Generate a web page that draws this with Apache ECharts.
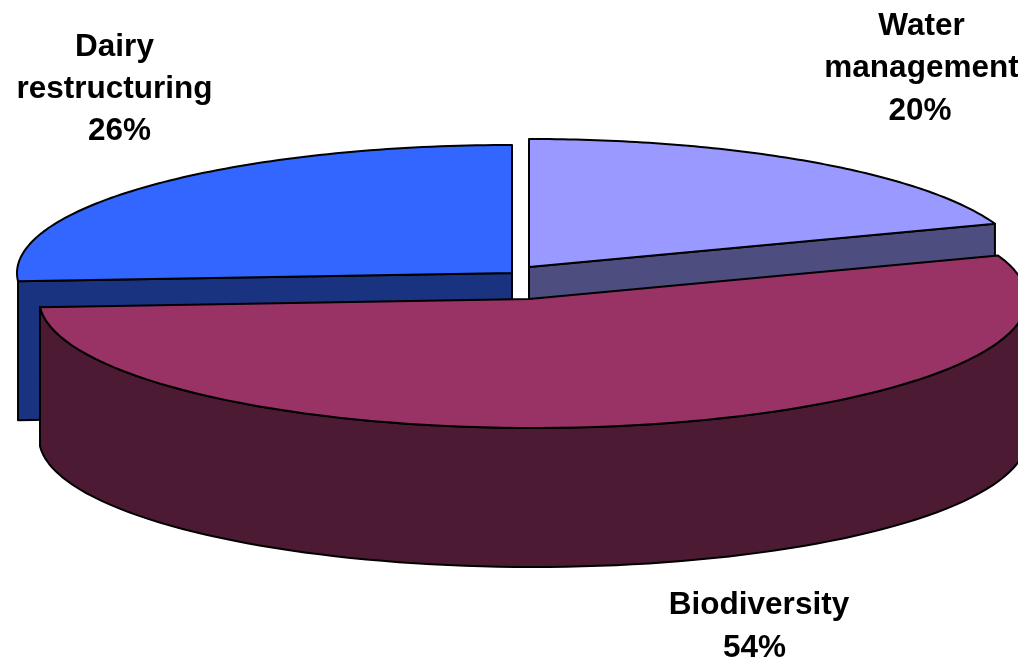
<!DOCTYPE html>
<html>
<head>
<meta charset="utf-8">
<style>
  html, body { margin: 0; padding: 0; background: #fff; }
  #chart { width: 1018px; height: 657px; }
</style>
</head>
<body>
<div id="chart"></div>
<script src="https://cdn.jsdelivr.net/npm/echarts@6/dist/echarts.min.js"></script>
<script>
  // values: printed labels, and slice sizes estimated from the rim
  const categories = ['Dairy\nrestructuring', 'Water\nmanagement', 'Biodiversity'];
  const percentLabels = ['26%', '20%', '54%'];
  const shares = [26, 19.5, 54.4];

  // one colour pair per slice, drawn back to front
  const topColors = ['#3366FF', '#9999FF', '#993366'];
  const wallColors = ['#1A3380', '#4D4D80', '#4D1A33'];

  const depth = 139;
  const apexes = [[512, 273], [529, 267], [529, 299]];    // exploded slice tips
  const centers = [[512, 273], [529, 267], [533, 299]];   // centre of each rim ellipse
  const radiiX = [495, 495, 494];
  const radiiY = [128, 128, 129];
  const namePos = [[114.5, 68.25], [921.5, 47.25], [759, 605.75]];
  const percentPos = [[119.5, 131.5], [920, 111], [754.5, 648.25]];

  const total = shares.reduce((a, b) => a + b, 0);
  // slices run clockwise from 12 o'clock: water, biodiversity, dairy
  const sweepOrder = [1, 2, 0];
  const angles = {};
  let running = 0;
  sweepOrder.forEach(i => {
    angles[i] = [running / total * Math.PI * 2, (running + shares[i]) / total * Math.PI * 2];
    running += shares[i];
  });

  function arc(i, from, to) {
    const pts = [];
    const n = 90;
    for (let k = 0; k <= n; k++) {
      const t = from + (to - from) * k / n;
      pts.push([
        centers[i][0] + radiiX[i] * Math.sin(t),
        centers[i][1] - radiiY[i] * Math.cos(t)
      ]);
    }
    return pts;
  }

  function shape(points, fill, z2) {
    return {
      type: 'polygon',
      z2: z2,
      shape: { points: points },
      style: { fill: fill, stroke: '#000', lineWidth: 2, lineJoin: 'round' }
    };
  }

  function label(text, pos) {
    return {
      type: 'text',
      z2: 5,
      style: {
        x: pos[0],
        y: pos[1],
        text: text,
        align: 'center',
        verticalAlign: 'middle',
        fill: '#000',
        font: 'bold 31.5px "Liberation Sans", Arial, sans-serif',
        lineHeight: 42.5
      }
    };
  }

  function renderSlice(params, api) {
    const i = api.value(0);
    const apex = apexes[i];
    const [from, to] = angles[i];
    const rim = arc(i, from, to);
    const down = p => [p[0], p[1] + depth];
    const children = [];

    // sides first
    if (i === 2) {
      // outer wall, only the part that faces the viewer
      const front = arc(i, Math.max(from, Math.PI / 2), Math.min(to, Math.PI * 1.5));
      children.push(shape(front.concat(front.map(down).reverse()), wallColors[i], 1));
    } else {
      // cut face between the tip and the rim
      const edge = i === 0 ? [rim[0], apex] : [apex, rim[rim.length - 1]];
      children.push(shape(edge.concat(edge.map(down).reverse()), wallColors[i], 1));
    }
    children.push(shape([apex].concat(rim), topColors[i], 2));
    children.push(label(categories[i], namePos[i]));
    children.push(label(percentLabels[i], percentPos[i]));
    return { type: 'group', children: children };
  }

  const chart = echarts.init(document.getElementById('chart'));
  chart.setOption({
    backgroundColor: '#fff',
    animation: false,
    series: [{
      type: 'custom',
      coordinateSystem: 'none',
      clip: false,
      renderItem: renderSlice,
      data: categories.map((c, i) => [i, shares[i]])
    }]
  });
</script>
</body>
</html>
